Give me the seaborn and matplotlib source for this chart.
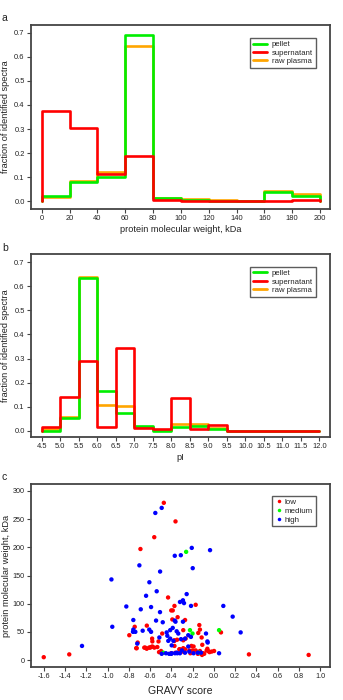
import numpy as np
import pandas as pd
import matplotlib
matplotlib.use("Agg")
import matplotlib.pyplot as plt
import seaborn as sns
from matplotlib.lines import Line2D

# ---------------- data ----------------
mw_edges = [0, 20, 40, 60, 80, 100, 120, 140, 160, 180, 200]
mw_pellet = [0.024, 0.079, 0.102, 0.692, 0.012, 0.006, 0.003, 0.001, 0.037, 0.024]
mw_supernatant = [0.373, 0.303, 0.112, 0.190, 0.006, 0.0, 0.0, 0.0, 0.0, 0.006]
mw_raw = [0.017, 0.084, 0.120, 0.643, 0.014, 0.011, 0.007, 0.001, 0.041, 0.029]

pi_edges = [4.5, 5.0, 5.5, 6.0, 6.5, 7.0, 7.5, 8.0, 8.5, 9.0, 9.5, 10.0, 10.5, 11.0, 11.5, 12.0]
pi_pellet = [0.0, 0.051, 0.635, 0.164, 0.073, 0.019, 0.001, 0.017, 0.020, 0.006, 0.0, 0.0, 0.0, 0.0, 0.0]
pi_supernatant = [0.014, 0.139, 0.291, 0.017, 0.343, 0.011, 0.006, 0.135, 0.008, 0.025, 0.0, 0.0, 0.0, 0.0, 0.0]
pi_raw = [0.007, 0.058, 0.638, 0.108, 0.104, 0.014, 0.003, 0.026, 0.026, 0.010, 0.0, 0.0, 0.0, 0.0, 0.0]

low_gravy = [-1.60, -1.36, -0.47, -0.36, -0.56, -0.69, -0.43, -0.17, -0.37, -0.40, -0.386, -0.34, -0.39,
             -0.27, -0.63, -0.744, -0.795, -0.485, -0.58, -0.578, -0.52, -0.716, -0.73, -0.654, -0.631,
             -0.609, -0.59, -0.578, -0.559, -0.531, -0.496, -0.515, -0.324, -0.136, -0.13, -0.287, 0.068,
             -0.146, -0.345, -0.37, -0.287, -0.265, -0.114, -0.108, -0.21, -0.19, -0.287, -0.30, -0.27,
             -0.32, -0.23, -0.20, -0.17, -0.13, -0.067, -0.052, -0.02, 0.003, -0.13, -0.099, 0.331, 0.893,
             -0.40, -0.36, -0.28, -0.22, -0.15, -0.11, -0.09, -0.06, -0.04, -0.60, -0.645, -0.725, -0.37, -0.37]
low_mw = [5, 10, 279, 246, 218, 197, 111, 98, 96, 88, 88, 76, 72,
          71, 61, 59, 44, 47, 38, 33, 33, 31, 21, 22, 20,
          22, 23, 24, 22, 23, 16, 14, 19, 62, 54, 53, 49,
          48, 36, 35, 35, 38, 40, 27, 25, 24, 21, 18, 19,
          19, 17, 17, 17, 16, 17, 16, 15, 16, 12, 12, 10, 9,
          12, 13, 14, 12, 11, 9, 11, 20, 14, 22, 22, 21, 34, 25]

med_gravy = [-0.26, -0.224, -0.20, 0.05, -0.475, -0.14]
med_mw = [192, 53, 47, 53, 13, 13]

high_gravy = [-0.49, -0.55, -0.207, -0.035, -0.31, -0.367, -0.70, -0.198, -0.505, -0.963, -0.606, -0.537,
              -0.637, -0.255, -0.29, -0.318, -0.28, -0.214, -0.823, -0.59, -0.687, -0.506, 0.09, 0.178,
              -0.757, -0.543, -0.48, -0.367, -0.29, -0.36, -0.955, 0.253, -0.073, -0.06, -0.757, -0.76,
              -0.738, -0.669, -0.607, -0.59, -0.386, -0.41, -0.443, -0.349, -0.334, -0.437, -0.428, -0.512,
              -0.41, -0.38, -0.396, -0.45, -0.42, -0.396, -0.365, -0.343, -1.24, 0.05, -0.24, -0.215,
              -0.057, -0.308, -0.27, -0.24, -0.23, -0.348, -0.40, -0.318, -0.27, -0.49, -0.30, -0.19,
              -0.15, -0.12, -0.72]
high_mw = [270, 261, 199, 195, 186, 185, 168, 163, 157, 143, 138, 122,
           114, 117, 106, 103, 101, 96, 95, 94, 90, 85, 96, 77,
           71, 70, 67, 70, 68, 68, 59, 49, 47, 33, 54, 50,
           50, 52, 54, 50, 57, 53, 49, 51, 47, 43, 34, 40,
           38, 34, 26, 12, 11, 12, 12, 12, 25, 12, 44, 41,
           31, 37, 38, 24, 15, 13, 11, 12, 13, 11, 17, 12,
           13, 13, 29]

series_names = ["pellet", "supernatant", "raw plasma"]
series_colors = {"pellet": "#00ee00", "supernatant": "#ff0000", "raw plasma": "#ffa500"}
draw_order = ["raw plasma", "pellet", "supernatant"]
group_names = ["low", "medium", "high"]
group_colors = {"low": "#ff0000", "medium": "#00ff00", "high": "#0000ff"}

# ---------------- style ----------------
sns.set_theme(style="white")
plt.rcParams["font.family"] = ["Liberation Sans", "DejaVu Sans"]
plt.rcParams["axes.unicode_minus"] = False

W, H = 343, 700
fig = plt.figure(figsize=(W / 100, H / 100), dpi=100)

def frac_rect(l, t, r, b):
    return [l / W, 1 - b / H, (r - l) / W, (b - t) / H]

ax_a = fig.add_axes(frac_rect(31, 25, 330, 209))
ax_b = fig.add_axes(frac_rect(31, 254, 330, 437))
ax_c = fig.add_axes(frac_rect(31, 484, 330, 667))

def step_frame(edges, vals, name):
    x = [edges[0]] + list(edges)
    y = [0.0] + list(vals) + [0.0]
    return pd.DataFrame({"x": x, "y": y, "series": name})

def style_axes(ax, size=5.4):
    for s in ax.spines.values():
        s.set_color("#444444")
        s.set_linewidth(1.3)
    ax.tick_params(axis="both", which="major", direction="out", length=3, width=0.8,
                   color="#444444", labelsize=size, pad=1.5, bottom=True, left=True,
                   labelcolor="#222222")

def hist_panel(ax, edges, data, xlim, ylim, xticks, xfmt, xlabel):
    for name in draw_order:
        df = step_frame(edges, data[name], name)
        sns.lineplot(data=df, x="x", y="y", ax=ax, color=series_colors[name], lw=1.9,
                     drawstyle="steps-post", estimator=None, sort=False, legend=False)
    handles = [Line2D([], [], color=series_colors[n], lw=2) for n in series_names]
    leg = ax.legend(handles, series_names, loc="upper right", fontsize=5.6, frameon=True,
                    fancybox=False, borderpad=0.35, handlelength=1.8, handletextpad=0.6,
                    labelspacing=0.12, bbox_to_anchor=(0.965, 0.95))
    leg.get_frame().set_edgecolor("#333333")
    leg.get_frame().set_linewidth(1.0)
    ax.set_xlim(*xlim)
    ax.set_ylim(*ylim)
    ax.set_xticks(xticks)
    ax.set_xticklabels([xfmt(t) for t in xticks])
    yt = [0.0, 0.1, 0.2, 0.3, 0.4, 0.5, 0.6, 0.7]
    ax.set_yticks(yt)
    ax.set_yticklabels([f"{t:.1f}" for t in yt])
    ax.set_xlabel(xlabel, fontsize=6.6, labelpad=2, color="#222222")
    ax.set_ylabel("fraction of identified spectra", fontsize=6.6, labelpad=3, color="#222222")
    style_axes(ax)

hist_panel(ax_a, mw_edges,
           {"pellet": mw_pellet, "supernatant": mw_supernatant, "raw plasma": mw_raw},
           (-7.7, 207.2), (-0.032, 0.732), mw_edges, lambda t: f"{t:d}",
           "protein molecular weight, kDa")
hist_panel(ax_b, pi_edges,
           {"pellet": pi_pellet, "supernatant": pi_supernatant, "raw plasma": pi_raw},
           (4.21, 12.29), (-0.026, 0.7345), pi_edges, lambda t: f"{t:.1f}", "pI")

# scatter panel
sc = pd.concat([
    pd.DataFrame({"gravy": low_gravy, "mw": low_mw, "group": "low"}),
    pd.DataFrame({"gravy": med_gravy, "mw": med_mw, "group": "medium"}),
    pd.DataFrame({"gravy": high_gravy, "mw": high_mw, "group": "high"}),
], ignore_index=True)
sns.scatterplot(data=sc, x="gravy", y="mw", hue="group", hue_order=group_names,
                palette=group_colors, s=10, linewidth=0, ax=ax_c, legend=True)
leg = ax_c.legend(loc="upper right", fontsize=5.8, frameon=True, fancybox=False,
                  borderpad=0.3, handletextpad=0.1, labelspacing=0.12, markerscale=0.8,
                  bbox_to_anchor=(0.965, 0.955), handlelength=1.2)
leg.get_frame().set_edgecolor("#333333")
leg.get_frame().set_linewidth(1.0)
ax_c.set_xlim(-1.72, 1.094)
ax_c.set_ylim(-12.4, 312.4)
xt = [-1.6, -1.4, -1.2, -1.0, -0.8, -0.6, -0.4, -0.2, 0.0, 0.2, 0.4, 0.6, 0.8, 1.0]
ax_c.set_xticks(xt)
ax_c.set_xticklabels([f"{t:.1f}" for t in xt])
ax_c.set_yticks([0, 50, 100, 150, 200, 250, 300])
ax_c.set_xlabel("GRAVY score", fontsize=7.6, labelpad=4, color="#222222")
ax_c.set_ylabel("protein molecular weight, kDa", fontsize=6.7, labelpad=1, color="#222222")
style_axes(ax_c, size=5.2)

for lab, ypx in (("a", 18), ("b", 248), ("c", 477)):
    fig.text(2 / W, 1 - ypx / H, lab, fontsize=7.5, va="center", ha="left", color="#222222")

fig.savefig("out.png", dpi=100, facecolor="white")
